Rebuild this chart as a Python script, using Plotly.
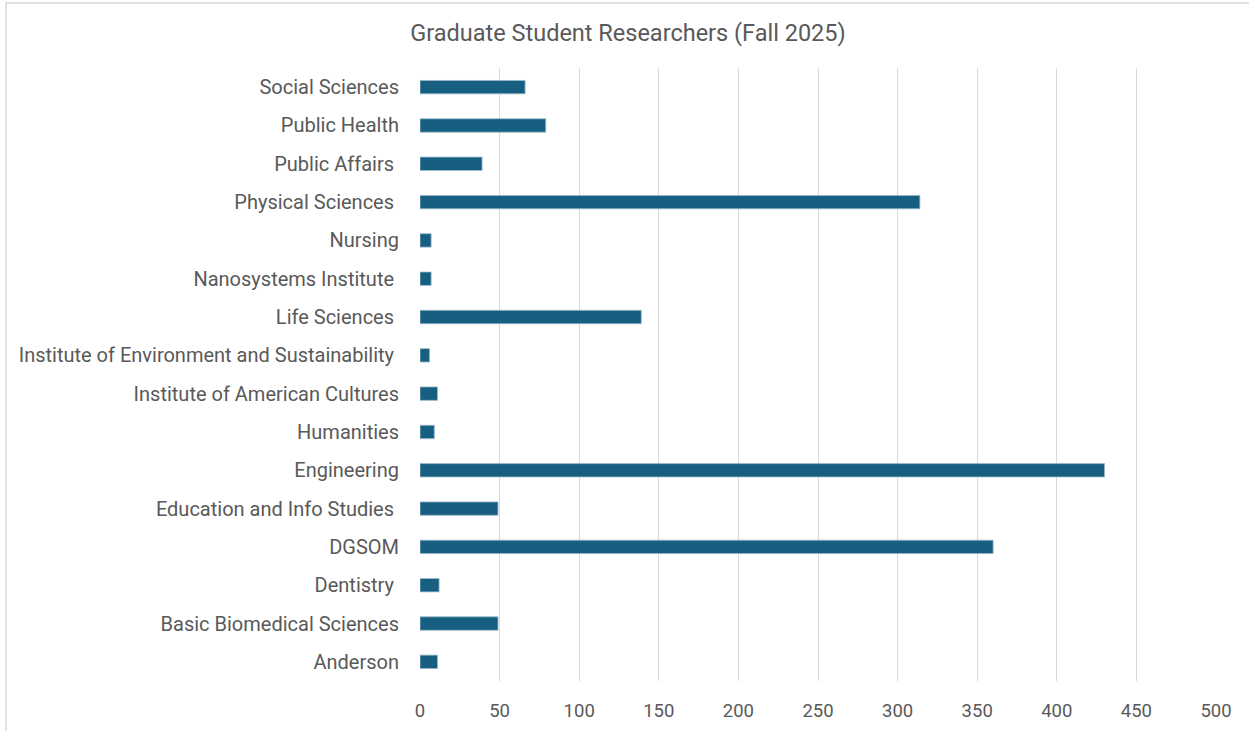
import plotly.graph_objects as go

categories = [
    "Anderson",
    "Basic Biomedical Sciences",
    "Dentistry\u00a0",
    "DGSOM",
    "Education and Info Studies\u00a0",
    "Engineering",
    "Humanities",
    "Institute of American Cultures",
    "Institute of Environment and Sustainability\u00a0",
    "Life Sciences\u00a0",
    "Nanosystems Institute\u00a0",
    "Nursing",
    "Physical Sciences\u00a0",
    "Public Affairs\u00a0",
    "Public Health",
    "Social Sciences",
]
values = [11, 49, 12, 360, 49, 430, 9, 11, 6, 139, 7, 7, 314, 39, 79, 66]
x_ticks = [0, 50, 100, 150, 200, 250, 300, 350, 400, 450, 500]

W, H = 1249, 731
L, R, T, B = 420, 1216, 68, 681
TEXT = "#595959"
FONT = "Roboto"

fig = go.Figure(go.Bar(
    x=values, y=categories, orientation="h",
    marker=dict(color="#165F80", line=dict(color="#9DBBCB", width=0.8)),
    width=0.35,
))

fig.update_layout(
    width=W, height=H,
    margin=dict(l=L, r=W - R, t=T, b=H - B, pad=0, autoexpand=False),
    paper_bgcolor="white", plot_bgcolor="white",
    title=dict(text="Graduate Student Researchers (Fall 2025)",
               x=628 / W, xanchor="center", y=1 - 33 / H, yanchor="middle",
               font=dict(family=FONT, size=23.5, color=TEXT)),
    font=dict(family=FONT, size=20, color=TEXT),
    showlegend=False,
    bargap=0.65,
)
fig.update_xaxes(range=[0, 500], tickvals=x_ticks, showgrid=True,
                 gridcolor="#D9D9D9", gridwidth=1.3, zeroline=False,
                 showline=False, ticks="", ticklabelstandoff=16, automargin=False,
                 tickfont=dict(family=FONT, size=18.5, color=TEXT), fixedrange=True)
fig.update_yaxes(categoryorder="array", categoryarray=categories,
                 showgrid=False, zeroline=False, showline=False, ticks="",
                 ticklabelstandoff=20, automargin=False,
                 tickfont=dict(family=FONT, size=20, color=TEXT), fixedrange=True)

# outer chart border
fig.add_shape(type="rect", xref="paper", yref="paper",
              x0=(6 - L) / (R - L), x1=(1260 - L) / (R - L),
              y0=(B - 740) / (B - T), y1=(B - 3) / (B - T),
              line=dict(color="#D9D9D9", width=1.5), fillcolor="rgba(0,0,0,0)",
              layer="below")

fig.write_html("out.html", config={"displayModeBar": False})
